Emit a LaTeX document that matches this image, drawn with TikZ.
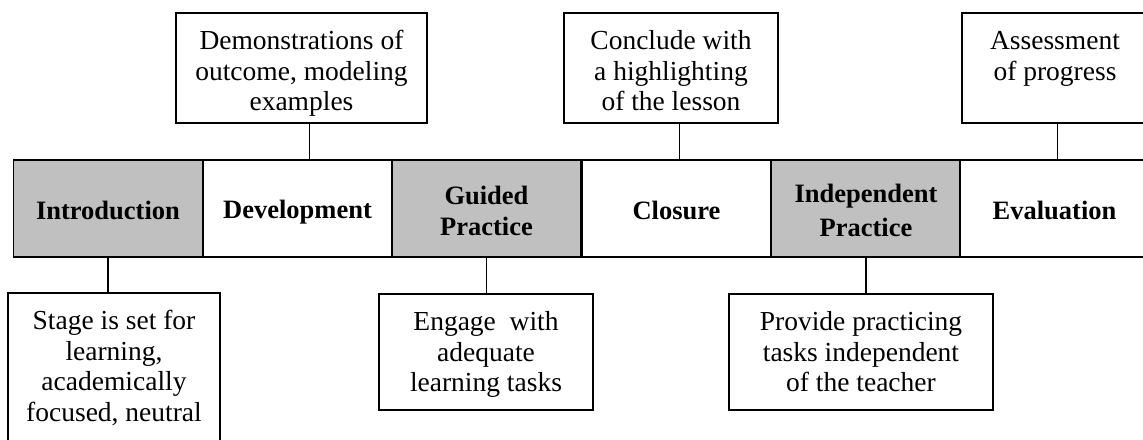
\documentclass[tikz,border=0pt]{standalone}
\usepackage{fontspec}
\setmainfont{Liberation Serif}
\usepackage{tikz}
\usetikzlibrary{shapes}
\definecolor{cellgrey}{HTML}{C0C0C0}
\newcommand{\notetext}[3]{\parbox[c][#1][t]{#2}{\centering\rule{0pt}{36.5pt}#3}}
\newcommand{\cellstrut}{\rule[-4.5pt]{0pt}{31pt}}
\tikzset{
  cell/.style={shape=rectangle,draw=black,align=center,line width=1.6pt,minimum width=189pt,minimum height=97pt,inner sep=0pt,font=\fontsize{26.5}{31}\selectfont\bfseries},
  note/.style={shape=rectangle,draw=black,line width=1.2pt,inner sep=0pt,font=\fontsize{27.5}{30.5}\selectfont}
}
\begin{document}
\begin{tikzpicture}[x=1pt,y=-1pt]
\clip (0,0) rectangle (1143,439);
\fill[white] (0,0) rectangle (1143,439);
\node[cell,fill=cellgrey] (intro) at (108,208.5) {\cellstrut Introduction};
\node[cell] (devel) at (297.5,208.5) {\cellstrut Development};
\node[cell,fill=cellgrey] (guided) at (486.5,208.5) {\cellstrut Guided\\\cellstrut Practice};
\node[cell] (closure) at (676.5,208.5) {\cellstrut Closure};
\node[cell,fill=cellgrey] (indep) at (866,208.5) {\cellstrut Independent\\\cellstrut Practice};
\node[cell] (eval) at (1054.5,208.5) {\cellstrut Evaluation};

\node[note] (demo) at (301.5,68) {\notetext{110pt}{251pt}{Demonstrations of\\outcome, modeling\\examples}};
\node[note] (conclude) at (671,68) {\notetext{110pt}{214pt}{Conclude with\\a highlighting\\of the lesson}};
\node[note] (assess) at (1055,68) {\notetext{110pt}{186pt}{Assessment\\of progress}};
\node[note] (stage) at (114,371.5) {\notetext{157pt}{212pt}{Stage is set for\\learning,\\academically\\focused, neutral}};
\node[note] (engage) at (486,352) {\notetext{116pt}{214pt}{Engage\ \ with\\adequate\\learning tasks}};
\node[note] (provide) at (861,352) {\notetext{116pt}{264pt}{Provide practicing\\tasks independent\\of the teacher}};

\path [draw=black,line width=1.2pt] ([xshift=12pt]devel.north) -- ([xshift=12pt]devel.north |- demo.south);
\path [draw=black,line width=1.2pt] ([xshift=3pt]closure.north) -- ([xshift=3pt]closure.north |- conclude.south);
\path [draw=black,line width=1.2pt] ([xshift=3pt]eval.north) -- ([xshift=3pt]eval.north |- assess.south);
\path [draw=black,line width=1.2pt] (intro.south) -- (intro.south |- stage.north);
\path [draw=black,line width=1.2pt] (guided.south) -- (guided.south |- engage.north);
\path [draw=black,line width=1.2pt] (indep.south) -- (indep.south |- provide.north);
\end{tikzpicture}
\end{document}
